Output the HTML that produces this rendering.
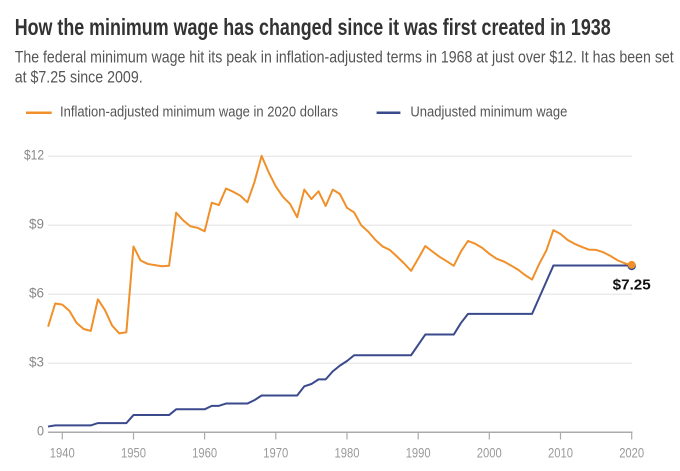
<!DOCTYPE html>
<html>
<head>
<meta charset="utf-8">
<style>
  html, body { margin: 0; padding: 0; background: #ffffff; }
  body { width: 680px; height: 471px; overflow: hidden; }
  svg { display: block; }
  text { font-family: "Liberation Sans", "DejaVu Sans", sans-serif; }
</style>
</head>
<body>
<svg width="680" height="471" viewBox="0 0 680 471" xmlns="http://www.w3.org/2000/svg">
  <rect x="0" y="0" width="680" height="471" fill="#ffffff"/>

  <!-- Title -->
  <text x="14.7" y="35" font-size="23" font-weight="bold" fill="#333333" textLength="596" lengthAdjust="spacingAndGlyphs">How the minimum wage has changed since it was first created in 1938</text>

  <!-- Subtitle -->
  <text x="14.7" y="62.7" font-size="17" fill="#555555" textLength="659" lengthAdjust="spacingAndGlyphs">The federal minimum wage hit its peak in inflation-adjusted terms in 1968 at just over $12. It has been set</text>
  <text x="14.7" y="82.3" font-size="17" fill="#555555" textLength="128" lengthAdjust="spacingAndGlyphs">at $7.25 since 2009.</text>

  <!-- Legend -->
  <line x1="26" y1="112.7" x2="51.7" y2="112.7" stroke="#f0902a" stroke-width="2.5"/>
  <text x="60" y="116.7" font-size="15" fill="#555555" textLength="278" lengthAdjust="spacingAndGlyphs">Inflation-adjusted minimum wage in 2020 dollars</text>
  <line x1="376.6" y1="112.7" x2="400.4" y2="112.7" stroke="#3a4a8c" stroke-width="2.5"/>
  <text x="410.4" y="116.7" font-size="15" fill="#555555" textLength="157" lengthAdjust="spacingAndGlyphs">Unadjusted minimum wage</text>

  <!-- Gridlines -->
  <g stroke="#ebebeb" stroke-width="1.5">
    <line x1="48" y1="156.3" x2="632" y2="156.3"/>
    <line x1="48" y1="225.3" x2="632" y2="225.3"/>
    <line x1="48" y1="294.3" x2="632" y2="294.3"/>
    <line x1="48" y1="363.3" x2="632" y2="363.3"/>
  </g>

  <!-- Y labels -->
  <g font-size="14" fill="#888888" text-anchor="end">
    <text x="44" y="159.3" textLength="20" lengthAdjust="spacingAndGlyphs">$12</text>
    <text x="44" y="228.3" textLength="15" lengthAdjust="spacingAndGlyphs">$9</text>
    <text x="44" y="297.3" textLength="15" lengthAdjust="spacingAndGlyphs">$6</text>
    <text x="44" y="366.3" textLength="15" lengthAdjust="spacingAndGlyphs">$3</text>
    <text x="44" y="435.3" textLength="7" lengthAdjust="spacingAndGlyphs">0</text>
  </g>

  <!-- X axis -->
  <line x1="48" y1="432.3" x2="632.5" y2="432.3" stroke="#aaaaaa" stroke-width="1.5"/>
  <g stroke="#aaaaaa" stroke-width="1.2">
    <line x1="62.3" y1="432.3" x2="62.3" y2="439.5"/>
    <line x1="133.5" y1="432.3" x2="133.5" y2="439.5"/>
    <line x1="204.6" y1="432.3" x2="204.6" y2="439.5"/>
    <line x1="275.8" y1="432.3" x2="275.8" y2="439.5"/>
    <line x1="347.0" y1="432.3" x2="347.0" y2="439.5"/>
    <line x1="418.2" y1="432.3" x2="418.2" y2="439.5"/>
    <line x1="489.3" y1="432.3" x2="489.3" y2="439.5"/>
    <line x1="560.5" y1="432.3" x2="560.5" y2="439.5"/>
    <line x1="631.7" y1="432.3" x2="631.7" y2="439.5"/>
  </g>
  <g font-size="13.5" fill="#999999" text-anchor="middle">
    <text x="62.3" y="457.3" textLength="25" lengthAdjust="spacingAndGlyphs">1940</text>
    <text x="133.5" y="457.3" textLength="25" lengthAdjust="spacingAndGlyphs">1950</text>
    <text x="204.6" y="457.3" textLength="25" lengthAdjust="spacingAndGlyphs">1960</text>
    <text x="275.8" y="457.3" textLength="25" lengthAdjust="spacingAndGlyphs">1970</text>
    <text x="347.0" y="457.3" textLength="25" lengthAdjust="spacingAndGlyphs">1980</text>
    <text x="418.2" y="457.3" textLength="25" lengthAdjust="spacingAndGlyphs">1990</text>
    <text x="489.3" y="457.3" textLength="25" lengthAdjust="spacingAndGlyphs">2000</text>
    <text x="560.5" y="457.3" textLength="25" lengthAdjust="spacingAndGlyphs">2010</text>
    <text x="631.7" y="457.3" textLength="25" lengthAdjust="spacingAndGlyphs">2020</text>
  </g>

  <!-- Series (data coords: x = year-1940, y = dollars) -->
  <g transform="translate(62.3 432.3) scale(7.1175 -23)">
    <polyline fill="none" stroke="#3a4a8c" stroke-width="2" vector-effect="non-scaling-stroke" stroke-linejoin="round"
      points="-2,0.25 -1,0.30 0,0.30 1,0.30 2,0.30 3,0.30 4,0.30 5,0.40 6,0.40 7,0.40 8,0.40 9,0.40 10,0.75 11,0.75 12,0.75 13,0.75 14,0.75 15,0.75 16,1.00 17,1.00 18,1.00 19,1.00 20,1.00 21,1.15 22,1.15 23,1.25 24,1.25 25,1.25 26,1.25 27,1.40 28,1.60 29,1.60 30,1.60 31,1.60 32,1.60 33,1.60 34,2.00 35,2.10 36,2.30 37,2.30 38,2.65 39,2.90 40,3.10 41,3.35 42,3.35 43,3.35 44,3.35 45,3.35 46,3.35 47,3.35 48,3.35 49,3.35 50,3.80 51,4.25 52,4.25 53,4.25 54,4.25 55,4.25 56,4.75 57,5.15 58,5.15 59,5.15 60,5.15 61,5.15 62,5.15 63,5.15 64,5.15 65,5.15 66,5.15 67,5.85 68,6.55 69,7.25 70,7.25 71,7.25 72,7.25 73,7.25 74,7.25 75,7.25 76,7.25 77,7.25 78,7.25 79,7.25 80,7.25"/>
    <polyline fill="none" stroke="#f0902a" stroke-width="2" vector-effect="non-scaling-stroke" stroke-linejoin="round"
      points="-2,4.59 -1,5.60 0,5.55 1,5.28 2,4.76 3,4.49 4,4.41 5,5.78 6,5.31 7,4.64 8,4.30 9,4.35 10,8.08 11,7.47 12,7.32 13,7.27 14,7.22 15,7.24 16,9.55 17,9.21 18,8.96 19,8.89 20,8.74 21,9.98 22,9.88 23,10.60 24,10.46 25,10.29 26,10.00 27,10.88 28,12.02 29,11.30 30,10.69 31,10.24 32,9.93 33,9.35 34,10.55 35,10.14 36,10.48 37,9.84 38,10.55 39,10.36 40,9.76 41,9.56 42,9.00 43,8.72 44,8.36 45,8.08 46,7.93 47,7.65 48,7.35 49,7.02 50,7.55 51,8.10 52,7.86 53,7.63 54,7.44 55,7.24 56,7.86 57,8.32 58,8.20 59,8.02 60,7.76 61,7.55 62,7.43 63,7.26 64,7.08 65,6.84 66,6.64 67,7.32 68,7.90 69,8.79 70,8.62 71,8.36 72,8.19 73,8.06 74,7.94 75,7.93 76,7.83 77,7.67 78,7.48 79,7.35 80,7.25"/>
  </g>

  <!-- End dots -->
  <circle cx="631.7" cy="266" r="4.2" fill="#3a4a8c"/>
  <circle cx="631.7" cy="264.8" r="3.9" fill="#f0902a"/>

  <!-- End label -->
  <text x="612.7" y="289.3" font-size="15" font-weight="bold" fill="#111111" textLength="38" lengthAdjust="spacingAndGlyphs">$7.25</text>
</svg>
</body>
</html>
